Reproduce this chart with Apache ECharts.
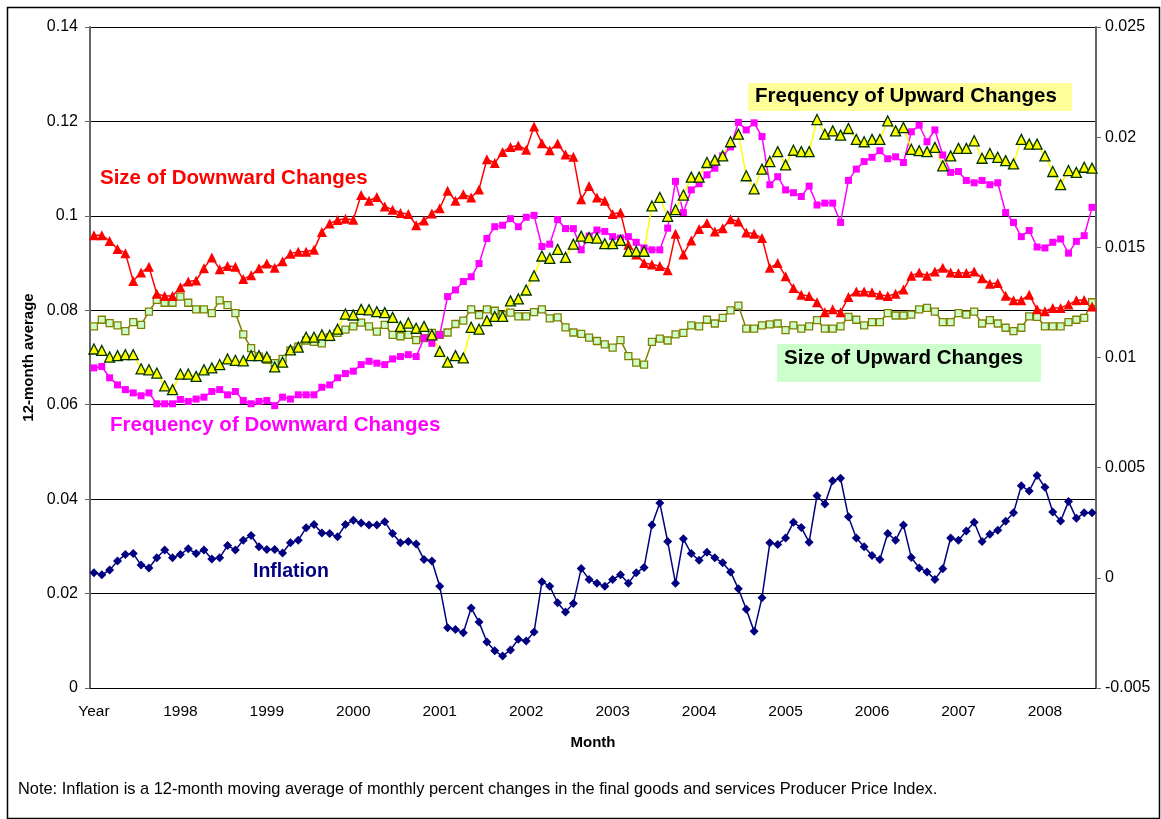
<!DOCTYPE html>
<html>
<head>
<meta charset="utf-8">
<title>Price changes and inflation</title>
<script src="https://cdn.jsdelivr.net/npm/echarts@6/dist/echarts.min.js"></script>
<style>
  html, body { margin: 0; padding: 0; background: #fff; }
  #chart { width: 1161px; height: 819px; }
</style>
</head>
<body>
<div id="chart"></div>
<script>
// x axis: 128 monthly points, a year label on every 11th one (as in the source)
var yearLabels = ['Year', '1998', '1999', '2000', '2001', '2002', '2003', '2004', '2005', '2006', '2007', '2008'];
var labelStep = 11;
var nPoints = 128;

// left axis series (12-month averages)
var sizeDown = [
  0.0959,0.0959,0.0947,0.0930,0.0921,0.0862,0.0880,0.0892,0.0835,0.0830,0.0830,0.0849,0.0861,0.0863,0.0889,0.0912,0.0887,0.0894,0.0892,0.0866,0.0874,0.0889,0.0899,0.0890,0.0904,0.0920,0.0924,0.0924,0.0928,0.0966,0.0984,0.0991,0.0994,
  0.0992,0.1044,0.1032,0.1040,0.1020,0.1013,0.1006,0.1004,0.0980,0.0990,0.1005,0.1016,0.1053,0.1032,0.1046,0.1039,0.1056,0.1120,0.1112,0.1135,0.1146,0.1149,0.1140,0.1189,0.1154,0.1139,0.1153,0.1130,0.1125,0.1035,0.1063,
  0.1039,0.1032,0.1004,0.1007,0.0939,0.0918,0.0900,0.0897,0.0894,0.0885,0.0962,0.0918,0.0948,0.0972,0.0985,0.0967,0.0974,0.0993,0.0988,0.0965,0.0962,0.0953,0.0890,0.0900,0.0872,0.0847,0.0833,0.0830,0.0817,0.0796,0.0802,0.0796,
  0.0828,0.0840,0.0840,0.0838,0.0833,0.0830,0.0835,0.0844,0.0873,0.0880,0.0873,0.0882,0.0890,0.0880,0.0879,0.0879,0.0882,0.0868,0.0856,0.0858,0.0831,0.0821,0.0821,0.0833,0.0802,0.0798,0.0805,0.0805,0.0812,0.0821,0.0822,0.0808
];
var freqDown = [
  0.0678,0.0681,0.0657,0.0642,0.0632,0.0625,0.0619,0.0625,0.0602,0.0602,0.0602,0.0611,0.0607,0.0612,0.0616,0.0628,0.0632,0.0621,0.0628,0.0609,0.0602,0.0607,0.0609,0.0598,0.0616,0.0612,0.0621,0.0621,0.0621,0.0637,0.0642,0.0657,0.0666,
  0.0671,0.0685,0.0692,0.0688,0.0685,0.0697,0.0702,0.0706,0.0702,0.0741,0.0730,0.0748,0.0829,0.0843,0.0861,0.0871,0.0899,0.0952,0.0977,0.0980,0.0994,0.0977,0.0997,0.1001,0.0935,0.0940,0.0992,0.0973,0.0973,0.0928,0.0957,
  0.0970,0.0967,0.0956,0.0953,0.0956,0.0944,0.0932,0.0928,0.0928,0.0974,0.1073,0.1007,0.1055,0.1068,0.1087,0.1101,0.1127,0.1146,0.1198,0.1182,0.1197,0.1168,0.1066,0.1083,0.1055,0.1049,0.1041,0.1063,0.1023,0.1027,0.1027,0.0986,
  0.1075,0.1099,0.1115,0.1124,0.1138,0.1121,0.1125,0.1113,0.1178,0.1192,0.1157,0.1182,0.1129,0.1092,0.1094,0.1075,0.1070,0.1075,0.1066,0.1070,0.1007,0.0986,0.0956,0.0969,0.0934,0.0932,0.0944,0.0951,0.0921,0.0946,0.0958,0.1018
];
var freqUp = [
  0.0718,0.0715,0.0701,0.0704,0.0706,0.0706,0.0676,0.0674,0.0667,0.0640,0.0632,0.0665,0.0665,0.0660,0.0674,0.0678,0.0685,0.0697,0.0694,0.0693,0.0704,0.0704,0.0701,0.0680,0.0690,0.0716,0.0722,0.0743,0.0743,0.0748,0.0747,0.0760,0.0792,
  0.0790,0.0802,0.0801,0.0797,0.0795,0.0785,0.0766,0.0773,0.0762,0.0766,0.0748,0.0713,0.0690,0.0704,0.0699,0.0764,0.0760,0.0778,0.0787,0.0787,0.0820,0.0824,0.0843,0.0873,0.0915,0.0910,0.0929,0.0912,0.0940,0.0957,0.0954,
  0.0953,0.0941,0.0941,0.0948,0.0925,0.0925,0.0925,0.1021,0.1039,0.0999,0.1013,0.1044,0.1082,0.1082,0.1113,0.1118,0.1127,0.1157,0.1173,0.1085,0.1057,0.1099,0.1115,0.1136,0.1108,0.1139,0.1136,0.1136,0.1204,0.1173,0.1180,0.1171,
  0.1185,0.1162,0.1157,0.1162,0.1162,0.1201,0.1180,0.1187,0.1141,0.1138,0.1136,0.1145,0.1106,0.1127,0.1143,0.1143,0.1159,0.1122,0.1132,0.1124,0.1117,0.1110,0.1162,0.1152,0.1152,0.1127,0.1094,0.1066,0.1096,0.1092,0.1103,0.1101
];
var sizeUp = [
  0.0766,0.0780,0.0773,0.0768,0.0756,0.0775,0.0769,0.0797,0.0822,0.0816,0.0816,0.0829,0.0816,0.0802,0.0802,0.0794,0.0821,0.0811,0.0794,0.0749,0.0720,0.0702,0.0695,0.0688,0.0697,0.0715,0.0723,0.0736,0.0733,0.0730,0.0743,0.0752,0.0759,
  0.0766,0.0774,0.0766,0.0755,0.0769,0.0748,0.0745,0.0748,0.0737,0.0741,0.0752,0.0748,0.0753,0.0771,0.0778,0.0802,0.0790,0.0802,0.0799,0.0790,0.0795,0.0787,0.0787,0.0796,0.0802,0.0783,0.0785,0.0764,0.0753,0.0750,0.0742,
  0.0735,0.0728,0.0721,0.0737,0.0703,0.0689,0.0685,0.0733,0.0740,0.0736,0.0749,0.0752,0.0768,0.0766,0.0780,0.0772,0.0784,0.0800,0.0810,0.0761,0.0761,0.0768,0.0770,0.0772,0.0758,0.0768,0.0761,0.0766,0.0779,0.0761,0.0761,0.0766,
  0.0786,0.0780,0.0768,0.0775,0.0775,0.0794,0.0789,0.0789,0.0791,0.0802,0.0805,0.0797,0.0775,0.0775,0.0794,0.0791,0.0797,0.0772,0.0779,0.0772,0.0763,0.0756,0.0763,0.0787,0.0786,0.0766,0.0766,0.0766,0.0775,0.0780,0.0784,0.0817
];
// right axis: inflation
var inflation = [
  0.00023,0.00014,0.00035,0.00076,0.00106,0.00110,0.00058,0.00045,0.00091,0.00126,0.00091,0.00106,0.00132,0.00110,0.00126,0.00086,0.00091,0.00147,0.00126,0.00171,0.00192,0.00141,0.00129,0.00129,0.00113,0.00159,0.00171,0.00227,0.00242,0.00204,0.00201,0.00186,0.00242,
  0.00261,0.00249,0.00240,0.00240,0.00255,0.00201,0.00159,0.00165,0.00153,0.00083,0.00076,-0.00038,-0.00226,-0.00234,-0.00249,-0.00137,-0.00201,-0.00291,-0.00331,-0.00355,-0.00327,-0.00279,-0.00287,-0.00246,-0.00018,-0.00038,-0.00113,-0.00155,-0.00116,0.00042,-0.00007,
  -0.00025,-0.00038,-0.00007,0.00014,-0.00025,0.00023,0.00047,0.00240,0.00340,0.00165,-0.00025,0.00177,0.00110,0.00080,0.00116,0.00091,0.00068,0.00027,-0.00050,-0.00143,-0.00243,-0.00090,0.00159,0.00151,0.00181,0.00252,0.00228,0.00162,0.00373,0.00335,0.00441,0.00452,
  0.00277,0.00181,0.00141,0.00101,0.00083,0.00201,0.00171,0.00240,0.00092,0.00045,0.00027,-0.00007,0.00041,0.00181,0.00171,0.00212,0.00252,0.00165,0.00198,0.00216,0.00257,0.00295,0.00418,0.00394,0.00464,0.00411,0.00299,0.00258,0.00347,0.00270,0.00295,0.00295
];

var categories = [];
for (var i = 0; i < nPoints; i++) {
  categories.push(i % labelStep === 0 ? yearLabels[i / labelStep] : '');
}

var FONT = '"Liberation Sans", Arial, sans-serif';

function lineSeries(name, data, yIdx, color, symbol, size, fill, border) {
  return {
    name: name,
    type: 'line',
    yAxisIndex: yIdx,
    data: data,
    symbol: symbol,
    symbolSize: size,
    lineStyle: { color: color, width: 1.5 },
    itemStyle: { color: fill, borderColor: border, borderWidth: border ? 1.3 : 0 },
    emphasis: { disabled: true }
  };
}

// annotation text placed over the plot
function note(text, left, top, color, weight, size) {
  return {
    type: 'text', left: left, top: top, z: 100,
    style: { text: text, fill: color, font: weight + ' ' + size + 'px ' + FONT }
  };
}

var myChart = echarts.init(document.getElementById('chart'));
myChart.setOption({
  animation: false,
  backgroundColor: '#fff',
  textStyle: { fontFamily: FONT },
  grid: { left: 90, right: 65, top: 27, bottom: 131 },
  xAxis: {
    type: 'category',
    data: categories,
    boundaryGap: true,
    name: 'Month',
    nameLocation: 'middle',
    nameGap: 47,
    nameTextStyle: { color: '#000', fontWeight: 'bold', fontSize: 15 },
    axisLine: { lineStyle: { color: '#000', width: 1 } },
    axisTick: { show: false },
    axisLabel: { interval: 0, color: '#000', fontSize: 15.5, margin: 16 }
  },
  yAxis: [
    {
      type: 'value',
      min: 0, max: 0.14, interval: 0.02,
      name: '12-month average',
      nameLocation: 'middle',
      nameRotate: 90,
      nameGap: 53,
      nameTextStyle: { color: '#000', fontWeight: 'bold', fontSize: 15 },
      axisLine: { show: true, lineStyle: { color: '#666', width: 2 } },
      axisTick: { show: true, length: 5, lineStyle: { color: '#666' } },
      axisLabel: { color: '#000', fontSize: 16, margin: 12 },
      splitLine: { show: true, lineStyle: { color: '#000', width: 1 } }
    },
    {
      type: 'value',
      position: 'right',
      min: -0.005, max: 0.025, interval: 0.005,
      axisLine: { show: true, lineStyle: { color: '#666', width: 2 } },
      axisTick: { show: true, length: 5, lineStyle: { color: '#666' } },
      axisLabel: { color: '#000', fontSize: 16, margin: 9 },
      splitLine: { show: false }
    }
  ],
  series: [
    lineSeries('Size of Upward Changes', sizeUp, 0, '#808000', 'rect', 7, '#CCFFCC', '#808000'),
    lineSeries('Frequency of Downward Changes', freqDown, 0, '#FF00FF', 'rect', 7, '#FF00FF'),
    lineSeries('Size of Downward Changes', sizeDown, 0, '#FF0000', 'triangle', 10, '#FF0000'),
    lineSeries('Frequency of Upward Changes', freqUp, 0, '#FFFF00', 'triangle', 10, '#FFFF00', '#003300'),
    lineSeries('Inflation', inflation, 1, '#000080', 'diamond', 9, '#000080')
  ],
  graphic: [
    // outer frame
    { type: 'rect', left: 5, top: 5, z: 0, shape: { width: 1152, height: 811 },
      style: { fill: null, stroke: '#000', lineWidth: 1.5 } },
    // label boxes
    { type: 'rect', left: 748, top: 83, z: 90, shape: { width: 324, height: 28 }, style: { fill: '#FFFF99' } },
    { type: 'rect', left: 777, top: 344, z: 90, shape: { width: 264, height: 38 }, style: { fill: '#CCFFCC' } },
    note('Size of Downward Changes', 100, 168, '#FF0000', 'bold', 20.5),
    note('Frequency of Upward Changes', 755, 86, '#000', 'bold', 20.5),
    note('Size of Upward Changes', 784, 348, '#000', 'bold', 20.5),
    note('Frequency of Downward Changes', 110, 415, '#FF00FF', 'bold', 20.5),
    note('Inflation', 253, 562, '#000080', 'bold', 19.5),
    note('Note: Inflation is a 12-month moving average of monthly percent changes in the final goods and services Producer Price Index.', 18, 781, '#000', 'normal', 16.4)
  ]
});
</script>
</body>
</html>
